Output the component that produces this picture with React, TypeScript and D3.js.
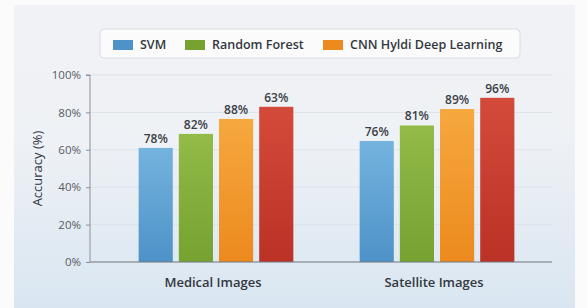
import React from "react";
import * as d3 from "d3";

const categories = ["Medical Images", "Satellite Images"];
const seriesNames = ["SVM", "Random Forest", "CNN Hyldi Deep Learning", "Hybrid"];
const legendNames = ["SVM", "Random Forest", "CNN Hyldi Deep Learning"];
// bar heights as drawn (percent)
const medicalValues = [61, 68.5, 76.5, 83];
const satelliteValues = [64.7, 73, 81.8, 87.8];
// labels printed above bars
const medicalLabels = ["78%", "82%", "88%", "63%"];
const satelliteLabels = ["76%", "81%", "89%", "96%"];
const yTicks = [0, 20, 40, 60, 80, 100];

const colors = [
  ["#74b3de", "#4d92c8"],
  ["#92bb48", "#76a22f"],
  ["#f6a83e", "#ec8a1e"],
  ["#d44a3a", "#bb3226"],
];

const App: React.FC = () => {
  const svgRef = React.useRef<SVGSVGElement>(null);

  React.useEffect(() => {
    if (!svgRef.current) return;
    const svg = d3.select(svgRef.current);
    svg.selectAll("*").remove();
    const width = 587;
    const height = 308;
    const left = 90;
    const axisRight = 552;
    const bottom = 262;
    const top = 75;

    const defs = svg.append("defs");
    const bg = defs
      .append("linearGradient")
      .attr("id", "bg")
      .attr("x1", 0)
      .attr("y1", 0)
      .attr("x2", 0)
      .attr("y2", 1);
    bg.append("stop").attr("offset", "0%").attr("stop-color", "#f1f2f5");
    bg.append("stop").attr("offset", "45%").attr("stop-color", "#eef1f5");
    bg.append("stop").attr("offset", "100%").attr("stop-color", "#d9e6f1");
    colors.forEach((c, i) => {
      const g = defs
        .append("linearGradient")
        .attr("id", `bar${i}`)
        .attr("x1", 0)
        .attr("y1", 0)
        .attr("x2", 0)
        .attr("y2", 1);
      g.append("stop").attr("offset", "0%").attr("stop-color", c[0]);
      g.append("stop").attr("offset", "100%").attr("stop-color", c[1]);
    });

    svg.append("rect").attr("width", width).attr("height", height).attr("fill", "#fbfbfc");
    svg
      .append("rect")
      .attr("x", 14)
      .attr("y", 5)
      .attr("width", 561)
      .attr("height", 303)
      .attr("fill", "url(#bg)");

    const y = d3.scaleLinear().domain([0, 100]).range([bottom, top]);
    const x0 = d3
      .scaleBand<string>()
      .domain(categories)
      .range([left, 563])
      .paddingInner(0.3)
      .paddingOuter(0.22);
    const x1 = d3
      .scaleBand<string>()
      .domain(seriesNames)
      .range([0, x0.bandwidth()])
      .paddingInner(0.15);

    // grid
    svg
      .append("g")
      .selectAll("line")
      .data(yTicks.slice(1))
      .join("line")
      .attr("x1", left)
      .attr("x2", axisRight)
      .attr("y1", d => y(d))
      .attr("y2", d => y(d))
      .attr("stroke", "#dde2ea")
      .attr("stroke-width", 1);

    // y axis
    const yAxis = svg
      .append("g")
      .attr("transform", `translate(${left},0)`)
      .call(
        d3
          .axisLeft(y)
          .tickValues(yTicks)
          .tickSize(4)
          .tickPadding(5)
          .tickFormat(d => `${d}%`)
      );
    yAxis.select(".domain").attr("stroke", "#8a9099").attr("d", `M-4,${top}H0V${bottom}`);
    yAxis.selectAll(".tick line").attr("stroke", "#8a9099");
    yAxis
      .selectAll("text")
      .attr("fill", "#555b63")
      .style("font-family", "'Open Sans', sans-serif")
      .style("font-size", "11.5px");

    svg
      .append("text")
      .attr("transform", `translate(42,${(top + bottom) / 2}) rotate(-90)`)
      .attr("text-anchor", "middle")
      .attr("fill", "#33383f")
      .style("font-family", "'Open Sans', sans-serif")
      .style("font-size", "13px")
      .text("Accuracy (%)");

    const groups = [
      { cat: categories[0], values: medicalValues, labels: medicalLabels },
      { cat: categories[1], values: satelliteValues, labels: satelliteLabels },
    ];

    groups.forEach(grp => {
      const g = svg.append("g").attr("transform", `translate(${x0(grp.cat)},0)`);
      grp.values.forEach((v, i) => {
        const bx = x1(seriesNames[i]) as number;
        g.append("rect")
          .attr("x", bx)
          .attr("y", y(v))
          .attr("width", x1.bandwidth())
          .attr("height", bottom - y(v))
          .attr("fill", `url(#bar${i})`);
        g.append("text")
          .attr("x", bx + x1.bandwidth() / 2)
          .attr("y", y(v) - 5)
          .attr("text-anchor", "middle")
          .attr("fill", "#3a3f46")
          .style("font-family", "'Open Sans', sans-serif")
          .style("font-size", "12px")
          .style("font-weight", 600)
          .text(grp.labels[i]);
      });
    });

    // x baseline
    svg
      .append("line")
      .attr("x1", left)
      .attr("x2", axisRight)
      .attr("y1", bottom)
      .attr("y2", bottom)
      .attr("stroke", "#6f767f")
      .attr("stroke-width", 1.2);

    svg
      .append("g")
      .selectAll("text")
      .data(categories)
      .join("text")
      .attr("x", d => (x0(d) as number) + x0.bandwidth() / 2 - 3)
      .attr("y", 287)
      .attr("text-anchor", "middle")
      .attr("fill", "#33383f")
      .style("font-family", "'Open Sans', sans-serif")
      .style("font-size", "13px")
      .style("font-weight", 600)
      .text(d => d);

    // legend
    const legend = svg.append("g");
    legend
      .append("rect")
      .attr("x", 100)
      .attr("y", 29)
      .attr("width", 420)
      .attr("height", 29)
      .attr("rx", 4)
      .attr("fill", "#fbfbfc")
      .attr("stroke", "#d8dce2");
    const legendX = [113, 185, 323];
    legendNames.forEach((name, i) => {
      const row = legend.append("g").attr("transform", `translate(${legendX[i]},0)`);
      row
        .append("rect")
        .attr("x", 0)
        .attr("y", 40)
        .attr("width", 20)
        .attr("height", 10)
        .attr("fill", colors[i][1]);
      row
        .append("text")
        .attr("x", 27)
        .attr("y", 45)
        .attr("dy", "0.35em")
        .attr("fill", "#33383f")
        .style("font-family", "'Open Sans', sans-serif")
        .style("font-size", "12.5px")
        .style("font-weight", 600)
        .text(name);
    });
  }, []);

  return (
    <svg
      ref={svgRef}
      width={587}
      height={308}
      style={{ position: "absolute", left: 0, top: 0 }}
    />
  );
};

export default App;
